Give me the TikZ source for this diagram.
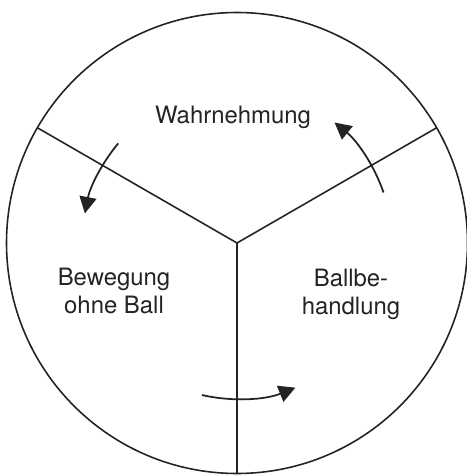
\documentclass[tikz,border=0pt]{standalone}
\usepackage{fontspec}
\setmainfont{TeX Gyre Heros}
\usetikzlibrary{arrows.meta,positioning}
\definecolor{InkBlack}{RGB}{35,35,35}
\newcommand{\turnarrow}[3]{%
  \draw[-{Triangle[length=3.3mm,width=3.4mm]},line width=1pt,InkBlack] (#1:#3) arc (#1:#2:#3);}

\begin{document}
\begin{tikzpicture}[every node/.style={font=\fontsize{13.6pt}{15.9pt}\selectfont,text=InkBlack,inner sep=0pt,align=center}]
  \useasboundingbox (-4.74,-4.64) rectangle (4.58,4.86);
  \coordinate (hub) at (0,0);
  \draw[InkBlack,line width=0.9pt] (hub) circle (4.61);
  \draw[InkBlack,line width=0.9pt] (hub) -- (30:4.61) (hub) -- (150:4.61) (hub) -- (270:4.61);
  % Pfeile im Gegenuhrzeigersinn
  \turnarrow{19}{51}{3.1}
  \turnarrow{140}{169}{3.1}
  \turnarrow{257}{292}{3.12}
  \node (wahrnehmung) at (-0.08,2.52) {Wahrnehmung};
  \node[anchor=north] (bewegung) at (-2.46,-0.5) {Bewegung\\ohne Ball};
  \node[anchor=north] (ballbehandlung) at (2.28,-0.52) {Ballbe-\\handlung};
\end{tikzpicture}
\end{document}
